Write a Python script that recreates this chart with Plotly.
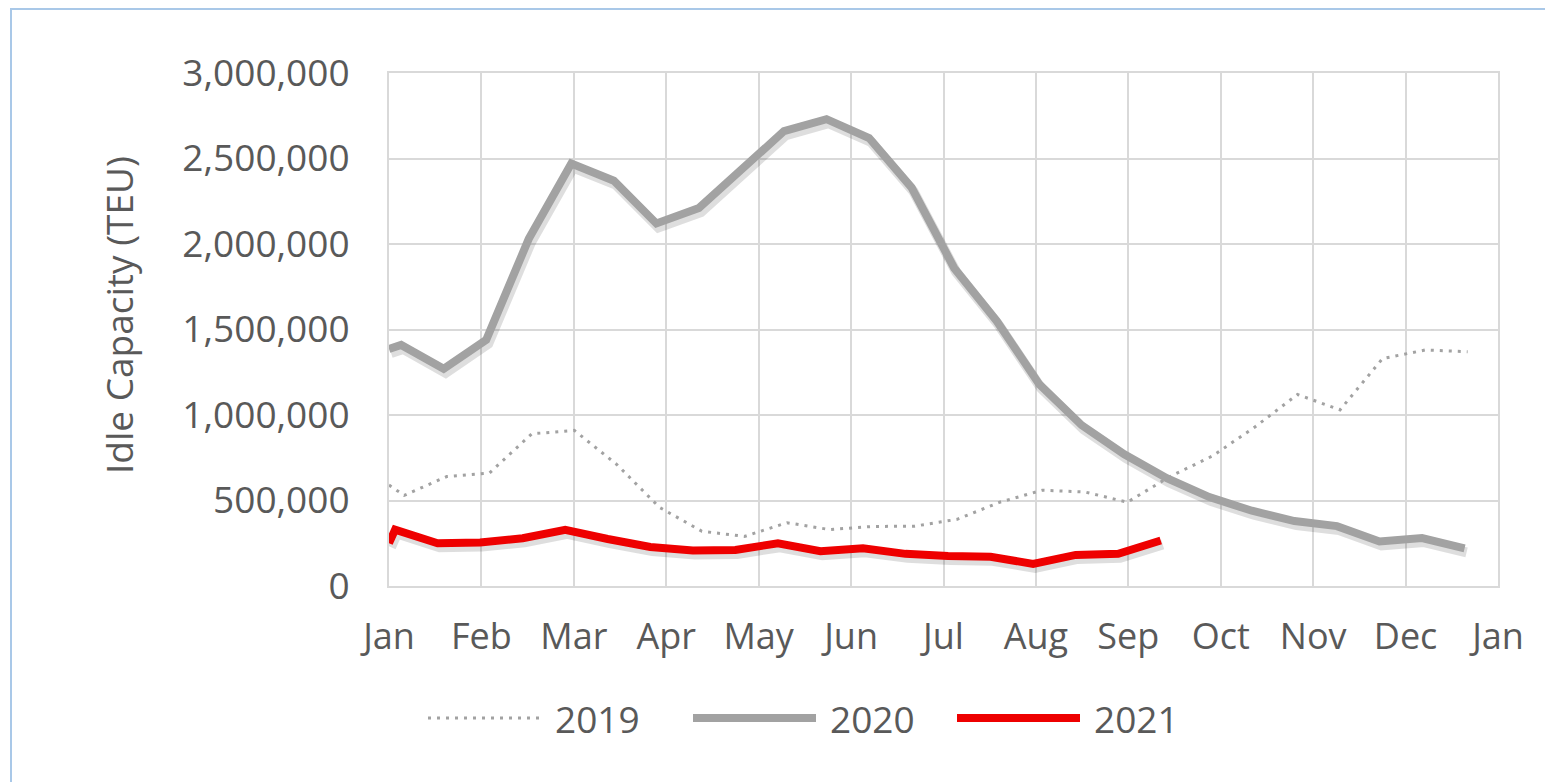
import plotly.graph_objects as go

# Day-of-year of each (biweekly) observation, first entry is the clipped start at Jan 1
days_2019 = [0, 5, 19, 33, 47, 61, 75, 89, 103, 117, 131, 145, 159, 173, 187,
             201, 215, 229, 243, 257, 271, 285, 299, 313, 327, 341, 355]
idle_2019 = [590000, 530000, 640000, 660000, 890000, 910000, 710000, 460000, 320000,
             290000, 370000, 330000, 348000, 350000, 390000, 490000, 560000, 550000,
             490000, 640000, 760000, 930000, 1120000, 1030000, 1330000, 1380000, 1370000]

days_2020 = [0, 4, 18, 32, 46, 60, 74, 88, 102, 116, 130, 144, 158, 172, 186,
             200, 214, 228, 242, 256, 270, 284, 298, 312, 326, 340, 354]
idle_2020 = [1386000, 1410000, 1270000, 1440000, 2030000, 2470000, 2370000, 2120000,
             2210000, 2430000, 2660000, 2730000, 2620000, 2330000, 1860000, 1550000,
             1180000, 940000, 770000, 630000, 520000, 440000, 380000, 350000, 260000,
             280000, 220000]

days_2021 = [0, 2, 16, 30, 44, 58, 72, 86, 100, 114, 128, 142, 156, 170, 184,
             198, 212, 226, 240, 254]
idle_2021 = [250000, 330000, 250000, 254000, 279000, 328000, 275000, 228000, 208000,
             211000, 250000, 203000, 221000, 188000, 176000, 171000, 129000, 182000,
             188000, 266000]

month_labels = ["Jan", "Feb", "Mar", "Apr", "May", "Jun", "Jul",
                "Aug", "Sep", "Oct", "Nov", "Dec", "Jan"]
y_ticks = [0, 500000, 1000000, 1500000, 2000000, 2500000, 3000000]

GRAY = "#a2a2a2"
RED = "#ee0000"
TEXT = "#595959"
GRID = "#d9d9d9"
SHADOW = "rgba(0,0,0,0.13)"
FONT = "Open Sans"

# page body adds an 8px margin, so work in page pixels and shift by OFF
OFF = 8
W, H = 1545, 774
L, T = 389 - OFF, 73 - OFF
R = W - (1498 - OFF)
B = H - (586 - OFF)
pw, ph = W - L - R, H - T - B

X_MAX, Y_MAX = 365, 3000000
# drop shadow: same data on a hidden axis pair whose range is nudged a few px
SH_DX, SH_DY = 2, 4
sh_x = SH_DX * X_MAX / pw
sh_y = SH_DY * Y_MAX / ph


def px_x(p):
    return (p - OFF - L) / pw


def px_y(p):
    return (H - B - (p - OFF)) / ph


fig = go.Figure()
# shadows (base axes, drawn underneath)
fig.add_trace(go.Scatter(x=days_2020, y=idle_2020, mode="lines", hoverinfo="skip",
                         line=dict(color=SHADOW, width=10), xaxis="x", yaxis="y"))
fig.add_trace(go.Scatter(x=days_2021, y=idle_2021, mode="lines", hoverinfo="skip",
                         line=dict(color=SHADOW, width=10), xaxis="x", yaxis="y"))
# series
fig.add_trace(go.Scatter(x=days_2019, y=idle_2019, mode="lines", name="2019",
                         line=dict(color=GRAY, width=3, dash="3px,6px"),
                         xaxis="x2", yaxis="y2"))
fig.add_trace(go.Scatter(x=days_2020, y=idle_2020, mode="lines", name="2020",
                         line=dict(color=GRAY, width=8), xaxis="x2", yaxis="y2"))
fig.add_trace(go.Scatter(x=days_2021, y=idle_2021, mode="lines", name="2021",
                         line=dict(color=RED, width=8), xaxis="x2", yaxis="y2"))

fig.update_layout(
    width=W, height=H,
    margin=dict(l=L, r=R, t=T, b=B),
    paper_bgcolor="white", plot_bgcolor="white",
    showlegend=False,
    font=dict(family=FONT, color=TEXT, size=36),
    xaxis=dict(range=[-sh_x, X_MAX - sh_x], visible=False),
    yaxis=dict(range=[sh_y, Y_MAX + sh_y], visible=False),
    xaxis2=dict(
        overlaying="x", anchor="y2", side="bottom",
        range=[0, X_MAX],
        tickvals=[i * X_MAX / 12 for i in range(13)], ticktext=month_labels,
        showgrid=True, gridcolor=GRID, gridwidth=2,
        showline=True, linecolor=GRID, linewidth=2, mirror=True,
        zeroline=False, ticklabelstandoff=18,
        tickfont=dict(size=36, color=TEXT),
    ),
    yaxis2=dict(
        overlaying="y", anchor="x2", side="left",
        range=[0, Y_MAX], tickvals=y_ticks, tickformat=",",
        showgrid=True, gridcolor=GRID, gridwidth=2,
        showline=True, linecolor=GRID, linewidth=2, mirror=True,
        zeroline=False, ticklabelstandoff=30,
        tickfont=dict(size=37, color=TEXT),
    ),
)

# axis title
fig.add_annotation(text="Idle Capacity (TEU)", xref="paper", yref="paper",
                   x=px_x(118), y=px_y(315), textangle=-90, showarrow=False,
                   xanchor="center", yanchor="middle",
                   font=dict(size=37, color=TEXT))

# outer light-blue frame
fig.add_shape(type="rect", xref="paper", yref="paper",
              x0=px_x(11), x1=px_x(1580), y0=px_y(800), y1=px_y(9),
              line=dict(color="#a9c8e8", width=2), layer="below")

# legend drawn by hand so the line samples are long like the original
legend_items = [
    ("2019", 428, 541, dict(color=GRAY, width=3, dash="3px,6px")),
    ("2020", 693, 816, dict(color=GRAY, width=8)),
    ("2021", 957, 1080, dict(color=RED, width=8)),
]
leg_y = px_y(718)
for name, x0, x1, ln in legend_items:
    fig.add_shape(type="line", xref="paper", yref="paper",
                  x0=px_x(x0), x1=px_x(x1), y0=leg_y, y1=leg_y, line=ln)
    fig.add_annotation(text=name, xref="paper", yref="paper",
                       x=px_x(x1 + 12), y=leg_y, xanchor="left", yanchor="middle",
                       showarrow=False, font=dict(size=37, color=TEXT))

fig.write_html("out.html")
